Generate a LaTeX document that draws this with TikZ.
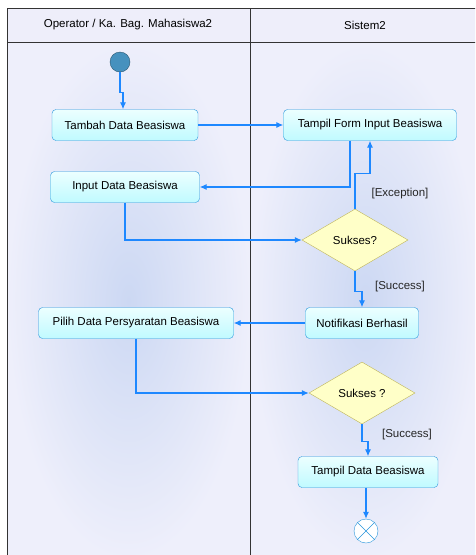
\documentclass[tikz,border=0pt]{standalone}
\usepackage{fontspec}
\setmainfont{Liberation Sans}
\usetikzlibrary{math}
\usetikzlibrary{arrows.meta}
\usetikzlibrary{shapes.geometric}

\definecolor{lanebg}{RGB}{238,239,251}
\definecolor{laneglow}{RGB}{204,216,243}
\definecolor{headbg}{RGB}{238,238,250}
\definecolor{flowblue}{RGB}{30,136,255}
\definecolor{boxline}{RGB}{40,150,220}
\definecolor{boxtop}{RGB}{236,255,255}
\definecolor{boxbot}{RGB}{192,250,255}
\definecolor{decfill}{RGB}{255,255,200}
\definecolor{decline}{RGB}{190,180,90}
\definecolor{startfill}{RGB}{70,145,190}

\tikzset{
  actbox/.style={draw=boxline, rounded corners=4pt, top color=boxtop, bottom color=boxbot,
    minimum height=31pt, inner sep=2pt, font=\fontsize{11.5}{13}\selectfont},
  decbox/.style={diamond, draw=decline, fill=decfill, minimum width=106pt, minimum height=62pt,
    inner sep=0pt, font=\fontsize{11.5}{13}\selectfont},
  flow/.style={draw=flowblue, line width=1.1pt, -{Latex[length=7pt,width=6pt]}},
  guard/.style={font=\fontsize{11.5}{13}\selectfont, text=black!85}
}

\begin{document}
\begin{tikzpicture}[x=1pt, y=-1pt]

\clip (0,0) rectangle (475,555);

% Partisi
\tikzmath{ \l = 7; \m = 250; \t = 8; \h = 42; }

\fill[white] (0,0) rectangle (475,555);
\fill[headbg] (\l, \t) rectangle (480, \h);
\shade[inner color=laneglow, outer color=lanebg] (\l, \h) rectangle (\m, 560);
\shade[inner color=laneglow, outer color=lanebg] (\m, \h) rectangle (480, 560);

\draw[black!80, line width=0.8pt] (\l, \t) rectangle (480, 560);
\draw[black!80, line width=0.8pt] (\l, \h) -- (480, \h);
\draw[black!80, line width=0.8pt] (\m, \t) -- (\m, 560);

\node[font=\fontsize{11.5}{13}\selectfont] (laneop) at (128, 25) {Operator / Ka. Bag. Mahasiswa2};
\node[font=\fontsize{11.5}{13}\selectfont] (lanesys) at (365, 25) {Sistem2};

% Aktivitas
\node[circle, draw=startfill!60!black, fill=startfill, minimum size=20pt, inner sep=0pt] (start) at (120, 62) {};
\node[actbox, minimum width=146pt] (tambah) at (125, 125) {Tambah Data Beasiswa};
\node[actbox, minimum width=173pt] (tampilform) at (370, 125) {Tampil Form Input Beasiswa};
\node[actbox, minimum width=149pt] (inputdata) at (125, 187) {Input Data Beasiswa};
\node[decbox] (sukses1) at (355, 240) {Sukses?};
\node[actbox, minimum width=113pt] (notif) at (362, 323) {Notifikasi Berhasil};
\node[actbox, minimum width=195pt] (pilih) at (136, 323) {Pilih Data Persyaratan Beasiswa};
\node[decbox] (sukses2) at (362, 393) {Sukses ?};
\node[actbox, minimum width=140pt] (tampildata) at (368, 472) {Tampil Data Beasiswa};
\node[circle, draw=boxline, fill=white, minimum size=24pt, inner sep=0pt] (finish) at (366, 531) {};
\draw[boxline] (finish.45) -- (finish.225) (finish.135) -- (finish.315);

% Alur
\draw[flow] (start.south) -- ++(0, 20) -| ([xshift=-2pt]tambah.north);
\draw[flow] (tambah) -- (tampilform);
\draw[flow] ([xshift=-20pt]tampilform.south) |- (inputdata);
\draw[flow] (inputdata) |- (sukses1);
\draw[flow] (sukses1.north) -- ++(0, -35) -| (tampilform.south);
\draw[flow] (sukses1.south) -- ++(0, 20) -| (notif.north);
\draw[flow] (notif) -- (pilih);
\draw[flow] (pilih) |- (sukses2);
\draw[flow] (sukses2.south) -- ++(0, 17) -| (tampildata.north);
\draw[flow] (tampildata.south -| finish) -- (finish);

\node[guard] (gexc) at (400, 194) {[Exception]};
\node[guard] (gsuc1) at (400, 287) {[Success]};
\node[guard] (gsuc2) at (407, 435) {[Success]};

\end{tikzpicture}
\end{document}
